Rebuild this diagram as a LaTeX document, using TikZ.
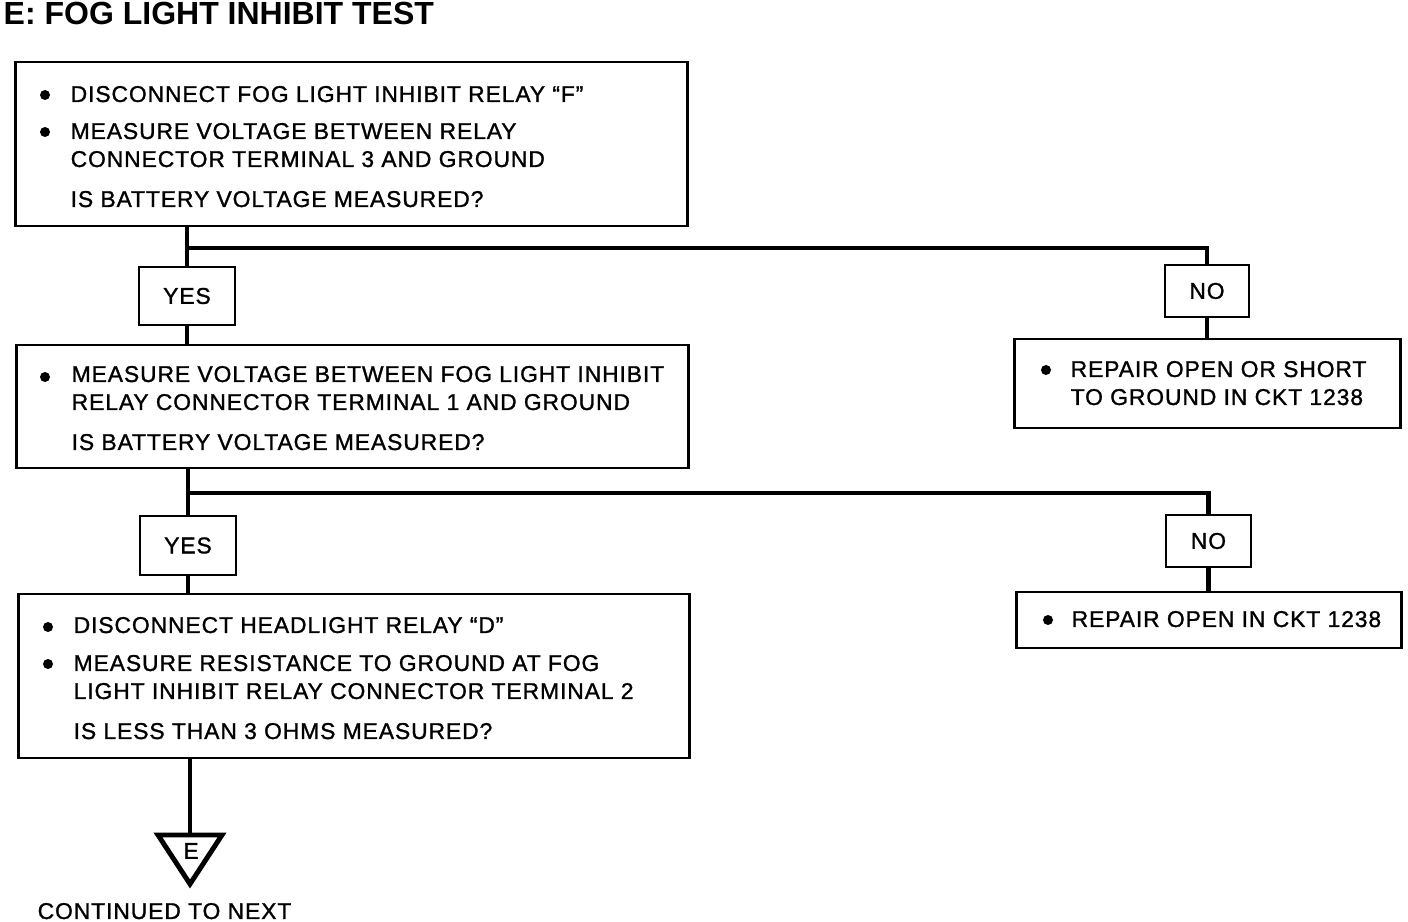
\documentclass[tikz,border=0pt]{standalone}
\usepackage{fontspec}
\setmainfont{Liberation Sans}
\newfontfamily\bodyfont{Liberation Sans}[LetterSpace=4,FakeBold=1.2]
\usepackage{tikz}
\usetikzlibrary{positioning,calc}
\tikzset{
  box/.style={draw, line width=0.8pt, inner sep=0pt},
  ansbox/.style={box, minimum width=0.9cm, minimum height=0.56cm, font=\bodyfont\fontsize{6.5}{7}\selectfont},
  txt/.style={anchor=base west, inner sep=0pt, font=\bodyfont\fontsize{6.5}{7}\selectfont},
  link/.style={line width=1.4pt},
  dot/.style={circle, fill, inner sep=0pt, minimum size=0.1cm}
}

\begin{document}
\begin{tikzpicture}[x=0.01cm,y=-0.01cm]
\useasboundingbox (0,0) rectangle (1408,922);
% title
\node[anchor=base west, inner sep=0pt, font=\bfseries\fontsize{9.1}{10}\selectfont] (title) at (3,25) {E: FOG LIGHT INHIBIT TEST};
% test boxes
\node[box, minimum width=6.71cm, minimum height=1.64cm] (b1) at (351.5,144) {};
\node[box, minimum width=6.71cm, minimum height=1.23cm] (b2) at (352.5,406.5) {};
\node[box, minimum width=6.70cm, minimum height=1.64cm] (b3) at (354,676) {};
% repair boxes
\node[box, minimum width=3.85cm, minimum height=0.89cm] (r1) at (1207.5,383.5) {};
\node[box, minimum width=3.84cm, minimum height=0.56cm] (r2) at (1209,620) {};
% answer boxes
\node[ansbox, minimum width=0.96cm, minimum height=0.58cm] (y1) at (187,296) {YES};
\node[ansbox, minimum width=0.96cm, minimum height=0.59cm] (y2) at (188,545.5) {YES};
\node[ansbox, minimum width=0.84cm, minimum height=0.52cm] (n1) at (1207,291) {NO};
\node[ansbox, minimum width=0.85cm, minimum height=0.52cm] (n2) at (1208.5,541) {NO};
% bullets
\foreach \x/\y in {45/95, 45/132, 45/377, 48/627, 48/664, 1046/370, 1048/620}
  \node[dot] at (\x,\y) {};
% box texts
\node[txt] (t11) at (70,102) {DISCONNECT FOG LIGHT INHIBIT RELAY “F”};
\node[txt] (t12) at (70,139) {MEASURE VOLTAGE BETWEEN RELAY};
\node[txt] (t13) at (70,167) {CONNECTOR TERMINAL 3 AND GROUND};
\node[txt] (t14) at (70,207) {IS BATTERY VOLTAGE MEASURED?};
\node[txt] (t21) at (71,382) {MEASURE VOLTAGE BETWEEN FOG LIGHT INHIBIT};
\node[txt] (t22) at (71,410) {RELAY CONNECTOR TERMINAL 1 AND GROUND};
\node[txt] (t23) at (71,450) {IS BATTERY VOLTAGE MEASURED?};
\node[txt] (t31) at (73,633) {DISCONNECT HEADLIGHT RELAY “D”};
\node[txt] (t32) at (73,671) {MEASURE RESISTANCE TO GROUND AT FOG};
\node[txt] (t33) at (73,699) {LIGHT INHIBIT RELAY CONNECTOR TERMINAL 2};
\node[txt] (t34) at (73,739) {IS LESS THAN 3 OHMS MEASURED?};
\node[txt] (tr11) at (1070,377) {REPAIR OPEN OR SHORT};
\node[txt] (tr12) at (1070,405) {TO GROUND IN CKT 1238};
\node[txt] (tr21) at (1071,627) {REPAIR OPEN IN CKT 1238};
% connectors
\coordinate (s1) at (187,248);
\coordinate (s2) at (188,493);
\draw[link] (b1.south -| y1) -- (y1.north);
\draw[link] (s1) -| (n1.north);
\draw[link] (y1.south) -- (y1.south |- b2.north);
\draw[link] (n1.south) -- (n1.south |- r1.north);
\draw[link] (b2.south -| y2) -- (y2.north);
\draw[link] (s2) -| (n2.north);
\draw[link] (y2.south) -- (y2.south |- b3.north);
\draw[link] (n2.south) -- (n2.south |- r2.north);
% off-page connector
\coordinate (tri) at (190,835);
\draw[link] (b3.south -| tri) -- (tri);
\draw[link, line join=miter] (158,835) -- (222,835) -- (190,884) -- cycle;
\node[font=\bodyfont\fontsize{6.5}{7}\selectfont, inner sep=0pt] (te) at (191,851) {E};
\node[txt] (cont) at (37,919) {CONTINUED TO NEXT};
\end{tikzpicture}
\end{document}
